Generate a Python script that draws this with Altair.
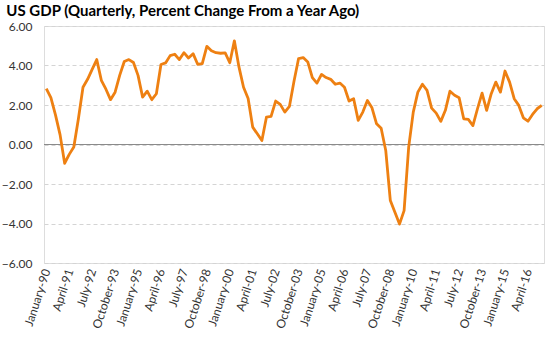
import altair as alt
import pandas as pd

chart_title = "US GDP (Quarterly, Percent Change From a Year Ago)"
months = ["January", "April", "July", "October"]
years = list(range(1990, 2018))

gdp = [
    2.83, 2.37, 1.5, 0.5, -0.95, -0.5, -0.13, 1.3, 2.9, 3.3, 3.8, 4.3,
    3.25, 2.8, 2.27, 2.65, 3.5, 4.2, 4.3, 4.15, 3.5, 2.4, 2.7, 2.27,
    2.57, 4.05, 4.13, 4.5, 4.57, 4.3, 4.65, 4.38, 4.6, 4.06, 4.1, 4.97,
    4.75, 4.65, 4.62, 4.64, 4.14, 5.25, 3.93, 2.9, 2.33, 0.88, 0.54, 0.2,
    1.39, 1.42, 2.2, 2.03, 1.64, 1.93, 3.2, 4.35, 4.4, 4.18, 3.39, 3.11,
    3.55, 3.39, 3.3, 3.05, 3.11, 2.9, 2.2, 2.32, 1.22, 1.64, 2.23, 1.86,
    1.05, 0.82, -0.3, -2.84, -3.43, -4.03, -3.35, -0.13, 1.64, 2.65, 3.05, 2.74,
    1.84, 1.59, 1.17, 1.73, 2.7, 2.49, 2.37, 1.3, 1.27, 0.96, 1.81, 2.6,
    1.73, 2.57, 3.16, 2.65, 3.72, 3.16, 2.32, 1.98, 1.35, 1.18, 1.52, 1.81,
    1.98,
]

tick_labels = [
    "January-90", "April-91", "July-92", "October-93", "January-95",
    "April-96", "July-97", "October-98", "January-00", "April-01",
    "July-02", "October-03", "January-05", "April-06", "July-07",
    "October-08", "January-10", "April-11", "July-12", "October-13",
    "January-15", "April-16",
]

y_ticks = [-6, -4, -2, 0, 2, 4, 6]
zero_line = [0]

quarters = [f"{m}-{y % 100:02d}" for y in years for m in months][: len(gdp)]
df = pd.DataFrame({"quarter": quarters, "gdp": gdp})
zero_df = pd.DataFrame({"value": zero_line})

FONT = "Lato"

y_axis = alt.Axis(
    values=y_ticks,
    format=".2f",
    labelFont=FONT,
    labelFontSize=12,
    labelColor="#333333",
    labelPadding=12,
    labelOverlap=False,
    labelFlush=False,
    ticks=False,
    domain=False,
    grid=True,
    gridColor="#d4d4d4",
    gridDash=[4, 3],
    gridWidth=1,
    title=None,
)
y_scale = alt.Scale(domain=[-6, 6], nice=False, zero=False)

line = alt.Chart(df).mark_line(
    color="#EE8012", strokeWidth=2.8, strokeJoin="round"
).encode(
    x=alt.X(
        "quarter:O",
        sort=None,
        scale=alt.Scale(type="point", padding=0.5),
        axis=alt.Axis(
            values=tick_labels,
            labelAngle=-72,
            labelAlign="right",
            labelBaseline="middle",
            labelPadding=6,
            labelFont=FONT,
            labelFontSize=12,
            labelColor="#333333",
            ticks=False,
            domain=False,
            grid=False,
            title=None,
            labelOverlap=False,
        ),
    ),
    y=alt.Y("gdp:Q", scale=y_scale, axis=y_axis),
)

zero = alt.Chart(zero_df).mark_rule(color="#8a8a8a", strokeWidth=1).encode(
    y=alt.Y("value:Q", scale=y_scale, axis=y_axis)
)

chart = (
    alt.layer(zero, line)
    .properties(
        width=500,
        height=237,
        padding={"left": 44, "top": 26, "right": 15, "bottom": 78},
        autosize=alt.AutoSizeParams(type="none"),
        title=alt.Title(
            chart_title,
            anchor="start",
            dx=5,
            dy=12,
            offset=1,
            font=FONT,
            fontSize=15,
            fontWeight="bold",
            color="#000000",
            baseline="alphabetic",
        ),
    )
    .configure_view(stroke=None)
    .configure(background="white")
)

chart.save("out.html", embed_options={"renderer": "svg", "actions": False})
